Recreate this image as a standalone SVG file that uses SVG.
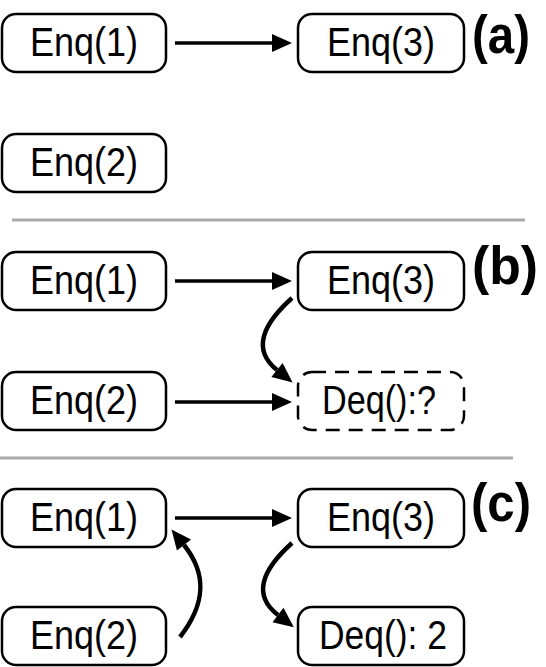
<svg xmlns="http://www.w3.org/2000/svg" width="546" height="667" viewBox="0 0 546 667">
<style>
.box{fill:#fff;stroke:#000;stroke-width:2.5}
.dash{stroke-dasharray:14 9}
.t{font-family:"Liberation Sans",Arial,sans-serif;font-size:40px;fill:#000;text-anchor:middle}
.lbl{font-family:"Liberation Sans",Arial,sans-serif;font-size:54px;font-weight:bold;fill:#000}
.sep{stroke:#aaa;stroke-width:3}
.a{fill:none;stroke:#000;stroke-width:3.5}
.c{fill:none;stroke:#000;stroke-width:4.5}
</style>
<defs>
<marker id="ah" viewBox="0 -9 20 18" refX="0" refY="0" markerWidth="20" markerHeight="18" markerUnits="userSpaceOnUse" orient="auto" overflow="visible">
<path d="M0,-9 L20,0 L0,9 z" fill="#000"/>
</marker>
</defs>
<rect width="546" height="667" fill="#fff"/>
<g id="separators">
<line class="sep" x1="12" y1="220" x2="525" y2="220"/>
<line class="sep" x1="0" y1="458" x2="513" y2="458"/>
</g>
<g id="labels">
<text class="lbl" x="472" y="53" textLength="58" lengthAdjust="spacingAndGlyphs">(a)</text>
<text class="lbl" x="472" y="284" textLength="66" lengthAdjust="spacingAndGlyphs">(b)</text>
<text class="lbl" x="471" y="521" textLength="60" lengthAdjust="spacingAndGlyphs">(c)</text>
</g>
<g id="a-enq1"><rect class="box" x="2" y="14" width="164" height="58" rx="14"/><text class="t" x="84" y="56" textLength="108" lengthAdjust="spacingAndGlyphs">Enq(1)</text></g>
<g id="a-enq3"><rect class="box" x="298" y="14" width="166" height="58" rx="14"/><text class="t" x="381" y="56" textLength="108" lengthAdjust="spacingAndGlyphs">Enq(3)</text></g>
<g id="a-enq2"><rect class="box" x="2" y="134" width="164" height="58" rx="14"/><text class="t" x="84" y="176" textLength="108" lengthAdjust="spacingAndGlyphs">Enq(2)</text></g>
<g id="b-enq1"><rect class="box" x="2" y="252" width="164" height="58" rx="14"/><text class="t" x="84" y="294" textLength="108" lengthAdjust="spacingAndGlyphs">Enq(1)</text></g>
<g id="b-enq3"><rect class="box" x="298" y="252" width="166" height="58" rx="14"/><text class="t" x="381" y="294" textLength="108" lengthAdjust="spacingAndGlyphs">Enq(3)</text></g>
<g id="b-enq2"><rect class="box" x="2" y="372" width="164" height="58" rx="14"/><text class="t" x="84" y="414" textLength="108" lengthAdjust="spacingAndGlyphs">Enq(2)</text></g>
<g id="b-deq"><rect class="box dash" x="298" y="372" width="166" height="58" rx="14"/><text class="t" x="379" y="414" textLength="114" lengthAdjust="spacingAndGlyphs">Deq():?</text></g>
<g id="c-enq1"><rect class="box" x="2" y="489" width="164" height="58" rx="14"/><text class="t" x="84" y="531" textLength="108" lengthAdjust="spacingAndGlyphs">Enq(1)</text></g>
<g id="c-enq3"><rect class="box" x="298" y="489" width="166" height="58" rx="14"/><text class="t" x="381" y="531" textLength="108" lengthAdjust="spacingAndGlyphs">Enq(3)</text></g>
<g id="c-enq2"><rect class="box" x="2" y="607" width="164" height="58" rx="14"/><text class="t" x="84" y="649" textLength="108" lengthAdjust="spacingAndGlyphs">Enq(2)</text></g>
<g id="c-deq"><rect class="box" x="298" y="607" width="166" height="58" rx="14"/><text class="t" x="383" y="649" textLength="128" lengthAdjust="spacingAndGlyphs">Deq(): 2</text></g>
<g id="connectors">
<line class="a" x1="175" y1="43" x2="272" y2="43" marker-end="url(#ah)"/>
<line class="a" x1="175" y1="281" x2="272" y2="281" marker-end="url(#ah)"/>
<line class="a" x1="175" y1="402" x2="272" y2="402" marker-end="url(#ah)"/>
<line class="a" x1="175" y1="518" x2="272" y2="518" marker-end="url(#ah)"/>
<path class="c" d="M292,298 C262,325 252,350 277,370" marker-end="url(#ah)"/>
<path class="c" d="M292,543 C262,570 252,595 278,615" marker-end="url(#ah)"/>
<path class="c" d="M180,637 C205,605 208,575 184,545" marker-end="url(#ah)"/>
</g>
</svg>
